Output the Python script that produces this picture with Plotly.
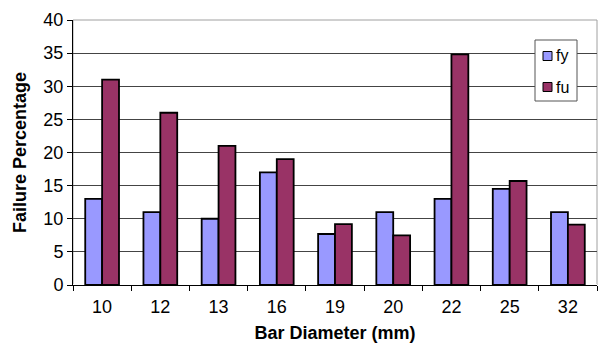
import plotly.graph_objects as go

diameters = ["10", "12", "13", "16", "19", "20", "22", "25", "32"]
fy = [13, 11, 10, 17, 7.7, 11, 13, 14.5, 11]
fu = [31, 26, 21, 19, 9.2, 7.5, 34.8, 15.7, 9.1]
series_names = ["fy", "fu"]
series_colors = ["#9999FF", "#993366"]

fig = go.Figure()
for name, vals, col in zip(series_names, [fy, fu], series_colors):
    fig.add_trace(go.Bar(name=name, x=diameters, y=vals, showlegend=False,
                         marker=dict(color=col, line=dict(color="#000000", width=1.8))))

# plotting area in pixels, used to place the hand-built legend
L, R, T, B = 73, 597, 20, 285
def px(x):
    return (x - L) / (R - L)
def py(y):
    return (B - y) / (B - T)

shapes = [
    # light frame around the plotting area
    dict(type="rect", xref="paper", yref="paper", x0=0, y0=0, x1=1, y1=1,
         line=dict(color="#A0A0A0", width=1), layer="below"),
    # legend box
    dict(type="rect", xref="paper", yref="paper", x0=px(535), x1=px(577), y0=py(101), y1=py(40),
         line=dict(color="#555555", width=1), fillcolor="white", layer="above"),
]
annotations = []
for i, (name, col) in enumerate(zip(series_names, series_colors)):
    cy = 56 + i * 31
    shapes.append(dict(type="rect", xref="paper", yref="paper",
                       x0=px(543), x1=px(552), y0=py(cy + 4.5), y1=py(cy - 4.5),
                       line=dict(color="#000000", width=1), fillcolor=col, layer="above"))
    annotations.append(dict(text=name, xref="paper", yref="paper", x=px(554), y=py(cy),
                            xanchor="left", yanchor="middle", showarrow=False,
                            font=dict(size=16, color="#000000")))

fig.update_layout(
    width=599, height=346,
    margin=dict(l=L, r=599 - R, t=T, b=346 - B),
    paper_bgcolor="white", plot_bgcolor="white",
    barmode="group", bargap=0.42, bargroupgap=0,
    font=dict(family="Liberation Sans, Arial, sans-serif", color="#000000"),
    shapes=shapes, annotations=annotations,
    xaxis=dict(
        type="category", tickson="boundaries", ticks="outside", ticklen=5,
        tickcolor="#000000", showline=True, linecolor="#000000", linewidth=1,
        tickfont=dict(size=18), ticklabelstandoff=5,
        title=dict(text="<b>Bar Diameter (mm)</b>", font=dict(size=18), standoff=10),
    ),
    yaxis=dict(
        range=[0, 40], dtick=5, ticks="outside", ticklen=5, tickcolor="#000000",
        showline=True, linecolor="#000000", linewidth=1,
        showgrid=True, gridcolor="#444444", gridwidth=1,
        tickfont=dict(size=18),
        title=dict(text="<b>Failure Percentage</b>", font=dict(size=18), standoff=12),
    ),
)

fig.write_html("out.html")
